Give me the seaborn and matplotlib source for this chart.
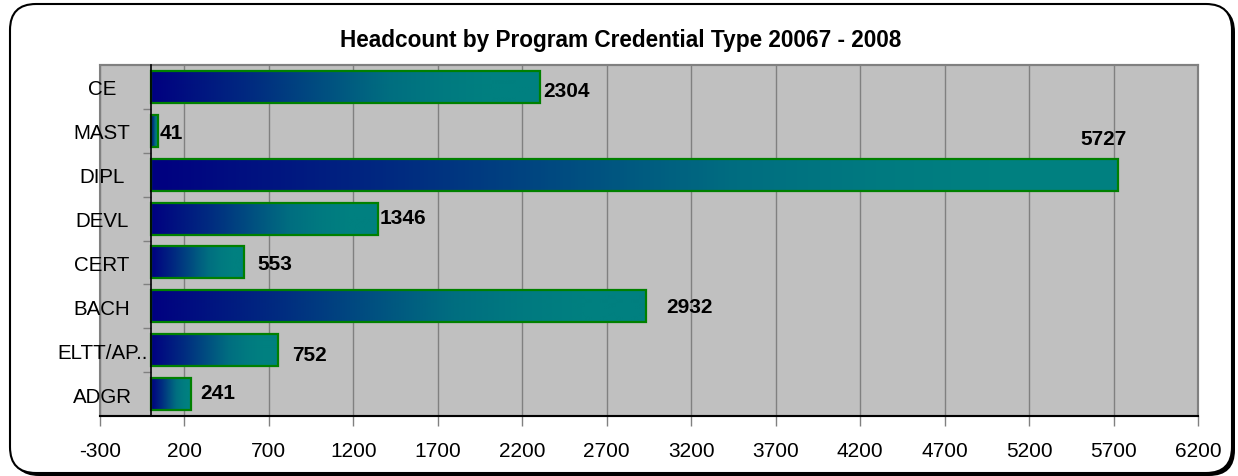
"""Headcount by program credential type, Excel-style gradient bar chart."""

import matplotlib
matplotlib.use("Agg")

import matplotlib.pyplot as plt
import matplotlib.transforms as mtransforms
import numpy as np
import pandas as pd
import seaborn as sns
from matplotlib.colors import LinearSegmentedColormap
from matplotlib.patches import FancyBboxPatch

categories = ["CE", "MAST", "DIPL", "DEVL", "CERT", "BACH", "ELTT/AP..", "ADGR"]
headcount = [2304, 41, 5727, 1346, 553, 2932, 752, 241]
x_ticks = list(range(-300, 6201, 500))

# label offsets (pixels) from bar end / bar centre, mimicking Excel's placement
label_dx = [3, 2, -15, 2, 13, 20, 14, 9]
label_dy = [-4, -1.5, 36, 1, -1, 0, -4, 1.5]
label_ha = ["left", "left", "center", "left", "left", "left", "left", "left"]

df = pd.DataFrame({"credential": categories, "headcount": headcount})

sns.set_style("white")
plt.rcParams["font.family"] = ["Liberation Sans", "DejaVu Sans"]
plt.rcParams["text.color"] = "black"
plt.rcParams["xtick.labelcolor"] = "black"
plt.rcParams["ytick.labelcolor"] = "black"

fig = plt.figure(figsize=(12.38, 4.77), dpi=100)

# rounded chart frame with shadow
ident = mtransforms.IdentityTransform()
shadow = FancyBboxPatch((13, 0), 1222, 470, boxstyle="round,pad=0,rounding_size=26",
                        transform=ident, facecolor="black", edgecolor="black", lw=0, zorder=-2)
frame = FancyBboxPatch((10, 3), 1222, 469, boxstyle="round,pad=0,rounding_size=26",
                       transform=ident, facecolor="white", edgecolor="black", lw=1.5, zorder=-1)
fig.patches.extend([shadow, frame])

ax = fig.add_axes([100 / 1238, 1 - 417 / 477, 1098 / 1238, 351 / 477])
ax.set_zorder(1)
ax.set_facecolor("#C0C0C0")

sns.barplot(data=df, x="headcount", y="credential", orient="h", color="white",
            edgecolor="#008000", linewidth=1.6, width=0.73, ax=ax, zorder=3)

# Excel-like two-colour gradient: navy -> teal, reaching teal before the bar end
cmap = LinearSegmentedColormap.from_list("navy_teal", [
    (0.0, "#000080"), (0.26, "#002C80"), (0.52, "#005E80"), (0.61, "#006E80"),
    (0.75, "#007A80"), (0.87, "#008080"), (1.0, "#008080"),
])
grad = np.linspace(0, 1, 256).reshape(1, -1)
for patch in ax.patches:
    x0, y0 = patch.get_x(), patch.get_y()
    w, h = patch.get_width(), patch.get_height()
    img = ax.imshow(grad, cmap=cmap, aspect="auto", extent=(x0, x0 + w, y0 + h, y0),
                    zorder=2.5, interpolation="bilinear")
    img.set_clip_path(patch)
    patch.set_facecolor("none")

for i, (val, dx, dy, ha) in enumerate(zip(headcount, label_dx, label_dy, label_ha)):
    ax.annotate(str(val), xy=(val, i), xytext=(dx * 0.72, dy * 0.72), textcoords="offset points",
                ha=ha, va="center", fontsize=15, fontweight="bold", color="black", zorder=5)

ax.set_xlim(-300, 6200)
ax.set_ylim(len(categories) - 0.5, -0.5)
ax.set_xticks(x_ticks)
ax.set_xticklabels([str(t) for t in x_ticks], fontsize=15)
ax.tick_params(axis="x", direction="out", length=7, width=1, color="#808080", pad=11, bottom=True)

ax.xaxis.grid(True, color="#808080", linewidth=1)
ax.yaxis.grid(False)
ax.set_axisbelow(True)

# value axis origin line at 0 carries the category labels
ax.spines["left"].set_position(("data", 0))
ax.spines["left"].set_color("black")
ax.spines["left"].set_linewidth(1.2)
ax.spines["left"].set_zorder(4)
ax.set_yticks(range(len(categories)))
ax.set_yticklabels(categories, fontsize=14.8, ha="center")
ax.set_yticks(np.arange(0.5, len(categories) - 1, 1), minor=True)
ax.tick_params(axis="y", which="major", length=0, pad=35)
ax.tick_params(axis="y", which="minor", direction="out", length=6, width=1, color="#808080", left=True)
for spine in ("top", "right"):
    ax.spines[spine].set_color("#808080")
    ax.spines[spine].set_linewidth(1.5)
ax.spines["bottom"].set_color("black")
ax.spines["bottom"].set_linewidth(1.5)
ax.patch.set_edgecolor("#808080")
ax.patch.set_linewidth(1.5)
ax.set_xlabel("")
ax.set_ylabel("")

fig.text(621 / 1238, 1 - 41 / 477, "Headcount by Program Credential Type 20067 - 2008",
         ha="center", va="center", fontsize=16.3, fontweight="bold", color="black")

fig.savefig("out.png", dpi=100)
plt.close(fig)
